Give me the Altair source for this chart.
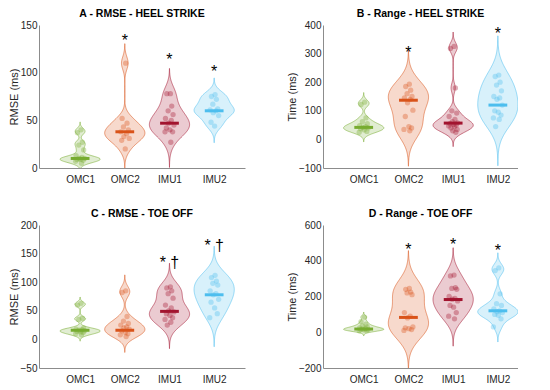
import altair as alt
import pandas as pd
import numpy as np

groups = ["OMC1", "OMC2", "IMU1", "IMU2"]
colors = ["#77AC30", "#D95319", "#A2142F", "#4DBEEE"]

# ---- Panel A: RMSE - HEEL STRIKE ----
A_OMC1 = [40, 37, 27, 24, 19, 13, 11, 10, 10, 9, 9, 8, 7, 5]
A_OMC2 = [110, 52, 47, 43, 40, 38, 36, 33, 31, 29, 20]
A_IMU1 = [78, 78, 65, 60, 56, 52, 50, 47, 45, 42, 40, 38, 38, 27]
A_IMU2 = [77, 75, 72, 67, 62, 61, 60, 58, 55, 48, 44]
# ---- Panel B: Range - HEEL STRIKE ----
B_OMC1 = [130, 122, 75, 62, 55, 48, 45, 42, 40, 37, 33, 28, 25]
B_OMC2 = [193, 185, 172, 160, 150, 145, 140, 128, 102, 80, 45, 40, 35, 30]
B_IMU1 = [325, 318, 180, 100, 92, 80, 70, 62, 58, 55, 52, 50, 47, 45, 40, 35, 30, 25]
B_IMU2 = [225, 220, 200, 190, 170, 150, 145, 140, 120, 100, 95, 85, 75, 70, 45]
# ---- Panel C: RMSE - TOE OFF ----
C_OMC1 = [63, 60, 37, 35, 20, 18, 17, 16, 15, 14, 13, 12, 10, 8]
C_OMC2 = [85, 82, 40, 32, 28, 25, 22, 20, 18, 15, 12, 10, 8, 5]
C_IMU1 = [92, 90, 85, 80, 72, 60, 55, 50, 48, 45, 42, 38, 35, 30, 25]
C_IMU2 = [112, 108, 102, 98, 95, 85, 80, 78, 70, 65, 55, 45, 38]
# ---- Panel D: Range - TOE OFF ----
D_OMC1 = [85, 60, 45, 35, 30, 25, 20, 18, 16, 15, 12, 10, 8]
D_OMC2 = [245, 240, 225, 220, 210, 110, 90, 80, 30, 25, 20, 15, 10]
D_IMU1 = [320, 315, 250, 245, 240, 200, 190, 185, 175, 150, 140, 110, 90, 75]
D_IMU2 = [360, 345, 215, 160, 150, 130, 120, 115, 110, 100, 95, 75, 30]

# horizontal scatter offsets of the points (category units)
OFFS = [0.02, -0.06, 0.05, -0.03, 0.08, -0.09, 0.04, -0.02, 0.10, -0.07,
        0.01, 0.07, -0.10, 0.03, -0.05, 0.09, -0.01, 0.06]

medians = {
    "A": [10, 38, 47, 60],
    "B": [42, 137, 57, 120],
    "C": [16, 16, 49, 78],
    "D": [18, 83, 183, 120],
}

stars = {
    "A": [(2, 137, "*"), (3, 117, "*"), (4, 105, "*")],
    "B": [(2, 317, "*"), (4, 383, "*")],
    "C": [(3, 140, "* †"), (4, 170, "* †")],
    "D": [(2, 485, "*"), (3, 509, "*"), (4, 476, "*")],
}

panels = {
    "A": dict(title="A - RMSE - HEEL STRIKE", ytitle="RMSE (ms)", ydom=[0, 150], ystep=50,
              xdom=[0.08, 4.69], width=206, data=[A_OMC1, A_OMC2, A_IMU1, A_IMU2]),
    "B": dict(title="B - Range - HEEL STRIKE", ytitle="Time (ms)", ydom=[-100, 400], ystep=100,
              xdom=[0.09, 4.45], width=195, data=[B_OMC1, B_OMC2, B_IMU1, B_IMU2]),
    "C": dict(title="C - RMSE - TOE OFF", ytitle="RMSE (ms)", ydom=[-50, 200], ystep=50,
              xdom=[0.08, 4.69], width=206, data=[C_OMC1, C_OMC2, C_IMU1, C_IMU2]),
    "D": dict(title="D - Range - TOE OFF", ytitle="Time (ms)", ydom=[-200, 600], ystep=200,
              xdom=[0.09, 4.45], width=195, data=[D_OMC1, D_OMC2, D_IMU1, D_IMU2]),
}

HALF_W = 0.45   # violin half-width in category units
MED_W = 0.21    # median bar half-width
FONT = "Liberation Sans"
PLOT_H = 143


def ks_bandwidth(vals):
    v = np.asarray(vals, dtype=float)
    sig = np.median(np.abs(v - np.median(v))) / 0.6745
    return float(sig * (4.0 / (3.0 * len(v))) ** 0.2)


def make_panel(key):
    p = panels[key]
    rows = []
    for gi, (g, vals) in enumerate(zip(groups, p["data"])):
        for i, v in enumerate(vals):
            rows.append({"group": g, "pos": gi + 1, "value": v, "off": OFFS[i % len(OFFS)]})
    df = pd.DataFrame(rows)
    med_df = pd.DataFrame({"group": groups, "pos": [1, 2, 3, 4], "median": medians[key]})
    star_df = pd.DataFrame(stars[key], columns=["pos", "y", "label"])

    lo, hi = p["ydom"]
    xscale = alt.Scale(domain=p["xdom"], nice=False, zero=False)
    yscale = alt.Scale(domain=p["ydom"], nice=False, zero=False)
    xaxis = alt.Axis(values=[1, 2, 3, 4], title=None, grid=False, ticks=False,
                     labelExpr="['','OMC1','OMC2','IMU1','IMU2'][datum.value]",
                     labelPadding=6)
    yaxis = alt.Axis(values=list(range(lo, hi + 1, p["ystep"])), title=p["ytitle"],
                     grid=False, ticks=False, labelPadding=2, titlePadding=1,
                     labelExpr="replace(format(datum.value, 'd'), '-', '\u2212')")
    cscale = alt.Scale(domain=groups, range=colors)

    layers = []
    for gi, (g, vals) in enumerate(zip(groups, p["data"])):
        bw = ks_bandwidth(vals)
        ext = [min(vals) - 3 * bw, max(vals) + 3 * bw]
        v = (
            alt.Chart(df)
            .transform_filter(alt.datum.group == g)
            .transform_density("value", groupby=["group", "pos"], bandwidth=bw,
                               extent=ext, steps=150, as_=["value", "density"])
            .transform_joinaggregate(maxd="max(density)")
            .transform_calculate(
                xl=f"datum.pos - {HALF_W} * datum.density / datum.maxd",
                xr=f"datum.pos + {HALF_W} * datum.density / datum.maxd",
            )
            .mark_area(orient="horizontal", color=colors[gi], fillOpacity=0.22,
                       stroke=colors[gi], strokeOpacity=0.55, strokeWidth=1, clip=True)
            .encode(
                y=alt.Y("value:Q", scale=yscale, axis=yaxis),
                x=alt.X("xl:Q", scale=xscale, axis=xaxis, stack=None),
                x2="xr:Q",
            )
        )
        layers.append(v)

    pts = (
        alt.Chart(df)
        .transform_calculate(xp="datum.pos + datum.off")
        .mark_circle(size=28, opacity=0.35)
        .encode(
            x=alt.X("xp:Q", scale=xscale, axis=xaxis),
            y=alt.Y("value:Q", scale=yscale, axis=yaxis),
            color=alt.Color("group:N", scale=cscale, legend=None),
        )
    )
    med = (
        alt.Chart(med_df)
        .transform_calculate(m1=f"datum.pos - {MED_W}", m2=f"datum.pos + {MED_W}")
        .mark_rule(strokeWidth=3)
        .encode(
            x=alt.X("m1:Q", scale=xscale, axis=xaxis),
            x2="m2:Q",
            y=alt.Y("median:Q", scale=yscale, axis=yaxis),
            color=alt.Color("group:N", scale=cscale, legend=None),
        )
    )
    txt = (
        alt.Chart(star_df)
        .mark_text(fontSize=16, font=FONT, color="#000000", baseline="middle", dy=4)
        .encode(
            x=alt.X("pos:Q", scale=xscale, axis=xaxis),
            y=alt.Y("y:Q", scale=yscale, axis=yaxis),
            text="label:N",
        )
    )
    return alt.layer(*layers, pts, med, txt).properties(
        width=p["width"], height=PLOT_H,
        title=alt.TitleParams(p["title"], fontSize=10.5, fontWeight="bold", font=FONT,
                              anchor="middle", offset=1, color="#000000"),
    )


row1 = alt.hconcat(make_panel("A"), make_panel("B"), spacing=41)
row2 = alt.hconcat(make_panel("C"), make_panel("D"), spacing=41)
chart = (
    alt.vconcat(row1, row2, spacing=24)
    .properties(padding=0)
    .configure_view(stroke=None)
    .configure_axis(domainColor="#8c8c8c", labelColor="#262626", titleColor="#262626",
                    labelFont=FONT, titleFont=FONT, labelFontSize=10, titleFontSize=11,
                    titleFontWeight="normal")
)

chart.save("out.html", embed_options={"renderer": "svg", "actions": False})
